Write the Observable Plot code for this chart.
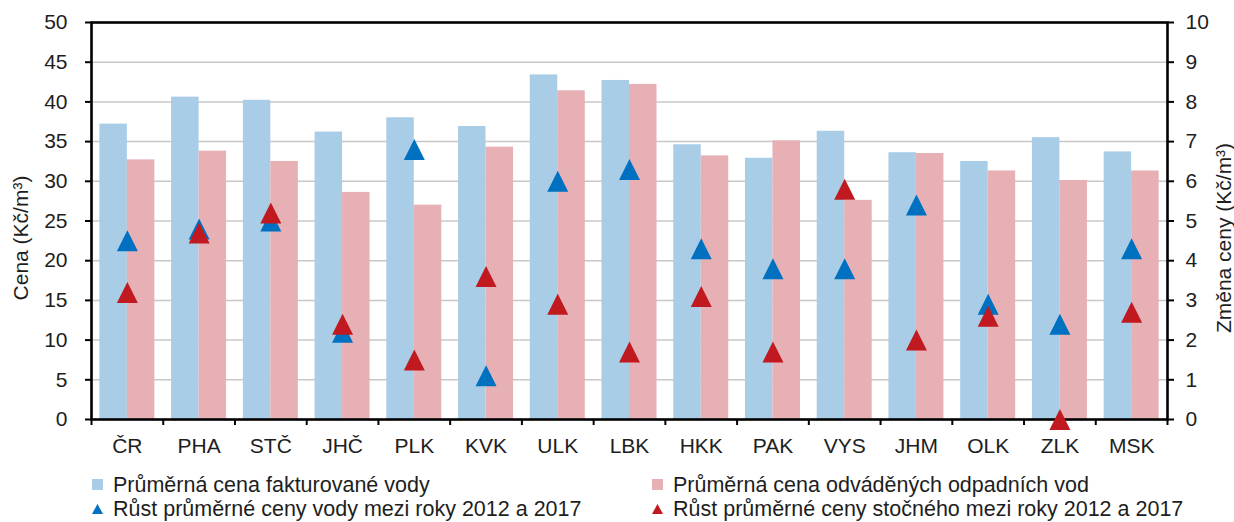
<!DOCTYPE html>
<html><head><meta charset="utf-8">
<script src="https://cdn.jsdelivr.net/npm/d3@7"></script>
<script src="https://cdn.jsdelivr.net/npm/@observablehq/plot@0.6"></script>
<style>
body{margin:0;background:#fff;font-family:"Liberation Sans",Arial,sans-serif;}
#wrap{position:relative;width:1234px;height:522px;overflow:hidden;}
.leg{position:absolute;height:22px;line-height:22px;font-size:21.5px;color:#1e1e1e;white-space:nowrap;}
.leg svg{position:absolute;left:0;top:5px;}
.leg span{position:absolute;left:21px;top:0;}
</style></head><body>
<div id="wrap"><div id="chart"></div></div>
<script>
// ---- data ----
const regions = ["ČR","PHA","STČ","JHČ","PLK","KVK","ULK","LBK","HKK","PAK","VYS","JHM","OLK","ZLK","MSK"];
const waterPrice   = [37.2,40.6,40.2,36.2,38.0,36.9,43.4,42.7,34.6,32.9,36.3,33.6,32.5,35.5,33.7];
const sewagePrice  = [32.7,33.8,32.5,28.6,27.0,34.3,41.4,42.2,33.2,35.1,27.6,33.5,31.3,30.1,31.3];
const waterChange  = [4.5,4.8,5.0,2.2,6.8,1.1,6.0,6.3,4.3,3.8,3.8,5.4,2.9,2.4,4.3];
const sewageChange = [3.2,4.7,5.2,2.4,1.5,3.6,2.9,1.7,3.1,1.7,5.8,2.0,2.6,0.0,2.7];
const leftTicks  = [0,5,10,15,20,25,30,35,40,45,50];
const rightTicks = [0,1,2,3,4,5,6,7,8,9,10];
const seriesNames = [
  "Průměrná cena fakturované vody",
  "Průměrná cena odváděných odpadních vod",
  "Růst průměrné ceny vody mezi roky 2012 a 2017",
  "Růst průměrné ceny stočného mezi roky 2012 a 2017"
];
const leftLabel = "Cena (Kč/m³)";
const rightLabel = "Změna ceny (Kč/m³)";

// ---- layout ----
const W = 1234, H = 462, mL = 91, mR = 67, mT = 22, mB = 43;
const colors = {water:"#a9cde7", sewage:"#e7b0b4", waterTri:"#0070c0", sewageTri:"#c0191f", grid:"#c8c8c8", text:"#1e1e1e"};
const fs = 21;
const plotW = W - mL - mR, plotH = H - mT - mB;
const bw = plotW / regions.length;
const barW = 27.5;
const yMax = leftTicks[leftTicks.length-1];
const ratio = yMax / rightTicks[rightTicks.length-1];
const tickLen = 6 * yMax / plotH;

const rows = regions.map((r,i)=>({region:r, water:waterPrice[i], sewage:sewagePrice[i], wch:waterChange[i]*ratio, sch:sewageChange[i]*ratio}));

const tri = {draw(ctx, size){const h = Math.sqrt(size/Math.PI); ctx.moveTo(0,-h); ctx.lineTo(h,h); ctx.lineTo(-h,h); ctx.closePath();}};

const chart = Plot.plot({
  width: W, height: H,
  marginLeft: mL, marginRight: mR, marginTop: mT, marginBottom: mB,
  style: {fontSize: fs + "px", fontFamily:'"Liberation Sans", Arial, sans-serif', color: colors.text, background:"#fff"},
  x: {domain: regions, padding: 0, round: false, axis: null},
  y: {domain: [0, yMax], axis: null},
  marks: [
    Plot.ruleY(leftTicks.slice(1, -1), {stroke: colors.grid, strokeWidth: 1.5}),
    Plot.barY(rows, {x:"region", y:"water", fill: colors.water, insetLeft: bw/2 - barW, insetRight: bw/2}),
    Plot.barY(rows, {x:"region", y:"sewage", fill: colors.sewage, insetLeft: bw/2, insetRight: bw/2 - barW}),
    Plot.frame({stroke:"#000", strokeWidth: 2.6}),
    Plot.axisY({anchor:"left", ticks: leftTicks, tickSize: 6, tickPadding: 18, strokeWidth: 2, stroke:"#000", label: null, fontSize: fs}),
    Plot.axisY({anchor:"right", ticks: leftTicks, tickFormat: d => d/ratio, tickSize: 6, tickPadding: 12, strokeWidth: 2, stroke:"#000", label: null, fontSize: fs}),
    Plot.axisX({anchor:"bottom", tickSize: 0, tickPadding: 19, label: null, fontSize: fs}),
    Plot.ruleX(regions, {x: d=>d, y1: 0, y2: -tickLen, dx: -bw/2, stroke:"#000", strokeWidth: 2}),
    Plot.ruleX(regions.slice(-1), {x: d=>d, y1: 0, y2: -tickLen, dx: bw/2, stroke:"#000", strokeWidth: 2}),
    Plot.dot(rows, {x:"region", y:"wch", symbol: tri, r: 10.5, fill: colors.waterTri, stroke: "none"}),
    Plot.dot(rows, {x:"region", y:"sch", symbol: tri, r: 10.5, fill: colors.sewageTri, stroke: "none"}),
    Plot.text([leftLabel], {text: d=>d, frameAnchor:"left", textAnchor:"middle", rotate:-90, dx:-70, dy:17, fontSize: fs, fill: colors.text}),
    Plot.text([rightLabel], {text: d=>d, frameAnchor:"right", textAnchor:"middle", rotate:-90, dx:57, dy:17, fontSize: fs, fill: colors.text})
  ]
});
document.getElementById("chart").appendChild(chart);

// ---- legend ----
const legendItems = [
  {name: seriesNames[0], kind:"square", color: colors.water, x: 92, y: 485},
  {name: seriesNames[1], kind:"square", color: colors.sewage, x: 652, y: 485},
  {name: seriesNames[2], kind:"tri", color: colors.waterTri, x: 92, y: 509},
  {name: seriesNames[3], kind:"tri", color: colors.sewageTri, x: 652, y: 509}
];
const wrap = document.getElementById("wrap");
for (const it of legendItems) {
  const d = document.createElement("div");
  d.className = "leg";
  d.style.left = it.x + "px";
  d.style.top = (it.y - 11) + "px";
  const shape = it.kind === "square"
    ? `<rect x="0" y="0" width="11" height="11" fill="${it.color}"/>`
    : `<path d="M5.5,1 L11,11 L0,11 Z" fill="${it.color}"/>`;
  d.innerHTML = `<svg width="12" height="12">${shape}</svg><span>${it.name}</span>`;
  wrap.appendChild(d);
}
</script>
</body></html>
